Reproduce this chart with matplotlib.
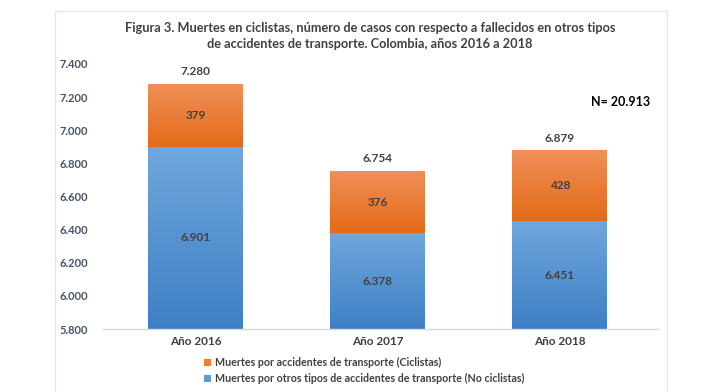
import matplotlib
matplotlib.use("Agg")
import matplotlib.pyplot as plt
import numpy as np
from matplotlib.lines import Line2D
from matplotlib.patches import Patch
from matplotlib.colors import LinearSegmentedColormap

categories = ["Año 2016", "Año 2017", "Año 2018"]
no_ciclistas = [6901, 6378, 6451]
ciclistas = [379, 376, 428]
totales = [7280, 6754, 6879]
yticks = [5800, 6000, 6200, 6400, 6600, 6800, 7000, 7200, 7400]
label_ciclistas = "Muertes por accidentes de transporte (Ciclistas)"
label_no = "Muertes por otros tipos de accidentes de transporte (No ciclistas)"
title = ("Figura 3. Muertes en ciclistas, número de casos con respecto a fallecidos en otros tipos\n"
         "de accidentes de transporte. Colombia, años 2016 a 2018")
n_text = "N= 20.913"

def fmt(v):
    return f"{v:,}".replace(",", ".")

plt.rcParams['font.family'] = ['Lato', 'DejaVu Sans']
plt.rcParams['font.weight'] = 'bold'

fig = plt.figure(figsize=(7.06, 3.92), dpi=100)
W, H = 706, 392
ax = fig.add_axes([103 / W, 1 - 329 / H, (658 - 103) / W, (329 - 64) / H])

x = np.arange(len(categories))
width = 0.52
blue_cmap = LinearSegmentedColormap.from_list("b", ["#3E7FC4", "#6FA7DD"])
orange_cmap = LinearSegmentedColormap.from_list("o", ["#E46A17", "#F09059"])

bars_b = ax.bar(x, no_ciclistas, width, bottom=0, color="none", edgecolor="none",
                label=label_no)
bars_o = ax.bar(x, ciclistas, width, bottom=no_ciclistas, color="none", edgecolor="none",
                label=label_ciclistas)

ax.set_xlim(-0.51, 2.54)
ax.set_ylim(5800, 7400)

grad = np.linspace(0, 1, 256).reshape(-1, 1)
for bars, cmap in ((bars_b, blue_cmap), (bars_o, orange_cmap)):
    for b in bars:
        x0, y0 = b.get_x(), b.get_y()
        w, h = b.get_width(), b.get_height()
        y0v = max(y0, 5800)
        im = ax.imshow(grad, cmap=cmap, origin="lower", aspect="auto",
                       extent=[x0, x0 + w, y0v, y0 + h], zorder=2)
        im.set_clip_path(b)

ax.set_xlim(-0.51, 2.54)
ax.set_ylim(5800, 7400)

lab_col = "#404040"
for i in range(len(categories)):
    ax.text(x[i], (5800 + no_ciclistas[i]) / 2,
            fmt(no_ciclistas[i]), ha="center", va="center", fontsize=8.5, color=lab_col,
            fontweight="bold", zorder=3)
    ax.text(x[i], no_ciclistas[i] + ciclistas[i] / 2, fmt(ciclistas[i]),
            ha="center", va="center", fontsize=8.5, color=lab_col, fontweight="bold", zorder=3)
    ax.text(x[i], totales[i] + 40, fmt(totales[i]), ha="center", va="bottom",
            fontsize=8.5, color=lab_col, fontweight="bold", zorder=3)

ax.set_yticks(yticks)
ax.set_yticklabels([fmt(v) for v in yticks], fontsize=8, color="#44546A", fontweight="bold")
ax.set_xticks(x)
ax.set_xticklabels(categories, fontsize=8.5, color=lab_col, fontweight="bold")
ax.tick_params(axis="both", length=0)
ax.tick_params(axis="y", pad=11)
ax.tick_params(axis="x", pad=5)
for s in ["top", "right", "left"]:
    ax.spines[s].set_visible(False)
ax.spines["bottom"].set_color("#D9D9D9")
ax.spines["bottom"].set_linewidth(1)

fig.text(370 / W, 1 - 36 / H, title, ha="center", va="center", fontsize=9.2,
         color="#404040", fontweight="bold", linespacing=1.4)
fig.text(650 / W, 1 - 102 / H, n_text, ha="right", va="center", fontsize=9,
         color="black", fontweight="bold")

# chart border
border = "#E6E6E6"
fig.add_artist(Line2D([55 / W, 667 / W], [1 - 11 / H, 1 - 11 / H], color=border, lw=1))
fig.add_artist(Line2D([55 / W, 55 / W], [0, 1 - 11 / H], color=border, lw=1))
fig.add_artist(Line2D([667 / W, 667 / W], [0, 1 - 11 / H], color=border, lw=1))

handles = [Patch(facecolor="#ED7D31", edgecolor="none", label=label_ciclistas),
           Patch(facecolor="#5B9BD5", edgecolor="none", label=label_no)]
fig.legend(handles=handles, loc="upper left", bbox_to_anchor=(204 / W, 1 - 357 / H),
           frameon=False, fontsize=7.7, handlelength=0.7, handleheight=0.7,
           handletextpad=0.3, labelspacing=0.5, borderaxespad=0, borderpad=0,
           labelcolor="#404040")

fig.savefig("out.png", dpi=100)
